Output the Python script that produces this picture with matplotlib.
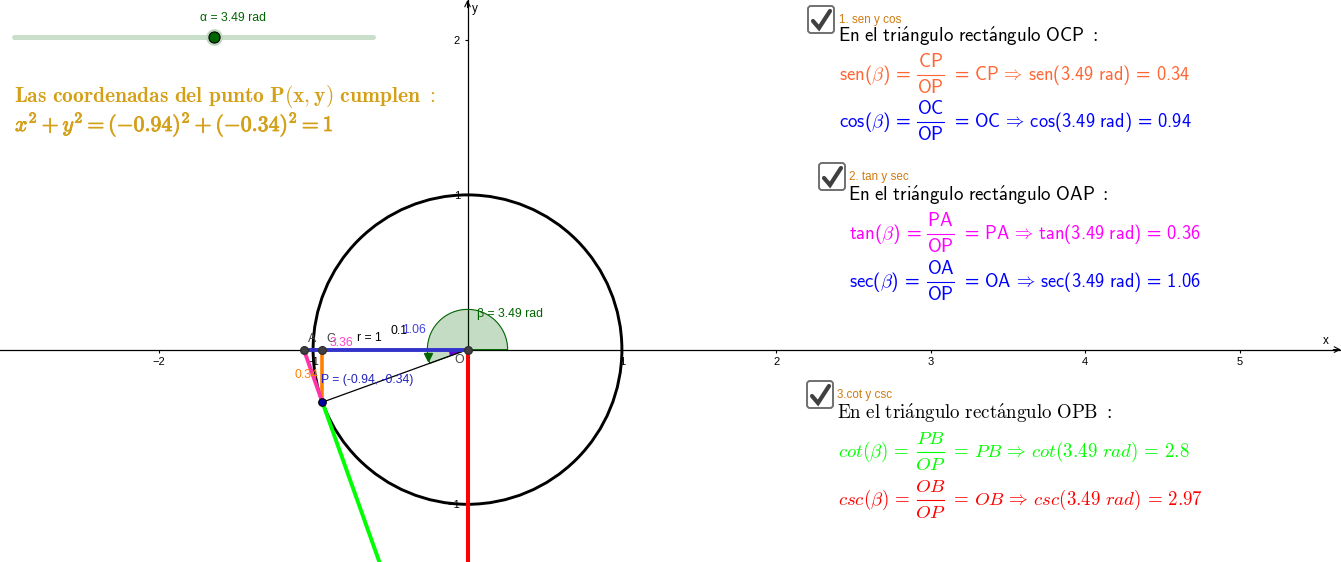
import numpy as np
import matplotlib
matplotlib.use("Agg")
import matplotlib.pyplot as plt
import matplotlib.patheffects as pe
from matplotlib.patches import Circle, Wedge, FancyBboxPatch

# sans formulas need digits and brackets from cmss10 too
plt.rcParams["mathtext.sf"] = "cmss10"
plt.rcParams["mathtext.rm"] = "cmss10"
plt.rcParams["mathtext.it"] = "cmmi10"
plt.rcParams["mathtext.fallback"] = "cm"

# unit circle values
beta = 3.49
p_x, p_y = -0.94, -0.34
a_x = -1.06
b_y = -2.97
x_ticks = [-2, -1, 1, 2, 3, 4, 5]
y_ticks = [-1, 1, 2]

ORANGE = "#FF6633"
BLUE = "#0000FF"
MAGENTA = "#FF00FF"
GREEN = "#00FF00"
RED = "#FF0000"
GOLD = "#D4A017"
DARK_GREEN = "#006400"
LABEL_ORANGE = "#D07A10"

W, H = 1341, 562
SX, SY = 154.4, 154.7
OX, OY = 467.5, 349.6

fig = plt.figure(figsize=(W / 100, H / 100), dpi=100)
ax = fig.add_axes([0, 0, 1, 1])
ax.set_xlim(-OX / SX, (W - OX) / SX)
ax.set_ylim((OY - H) / SY, OY / SY)

# axes through the origin
for side in ["top", "right"]:
    ax.spines[side].set_visible(False)
ax.spines["bottom"].set_position("zero")
ax.spines["left"].set_position("zero")
ax.spines["bottom"].set_linewidth(0.9)
ax.spines["left"].set_linewidth(0.9)
ax.set_xticks(x_ticks)
ax.set_yticks(y_ticks)
ax.set_xticklabels([str(t).replace("-", "\u2212") for t in x_ticks])
ax.set_yticklabels([str(t).replace("-", "\u2212") for t in y_ticks])
ax.tick_params(axis="both", direction="out", length=2.5, width=0.8, labelsize=8, pad=3)
for lab in ax.get_xticklabels() + ax.get_yticklabels():
    lab.set_family("Liberation Sans")
ax.annotate("", xy=(ax.get_xlim()[1], 0), xytext=(ax.get_xlim()[1] - 0.05, 0),
            arrowprops=dict(arrowstyle="->", lw=0.8, color="black", shrinkA=0, shrinkB=0))
ax.annotate("", xy=(0, ax.get_ylim()[1]), xytext=(0, ax.get_ylim()[1] - 0.05),
            arrowprops=dict(arrowstyle="->", lw=0.8, color="black", shrinkA=0, shrinkB=0))

# angle sectors
ax.add_patch(Wedge((0, 0), 0.26, 0, np.degrees(beta), facecolor="#006400", alpha=0.23, lw=0, zorder=3))
ax.add_patch(Wedge((0, 0), 0.26, 0, np.degrees(beta), fill=False, edgecolor=DARK_GREEN, lw=0.8, zorder=3))
ax.add_patch(Wedge((0, 0), 0.12, 180, np.degrees(beta), facecolor="#6A00D8", lw=0, zorder=3))
ax.plot([0.26 * np.cos(beta - 0.17)], [0.26 * np.sin(beta - 0.17)], "v", color=DARK_GREEN, ms=6, zorder=3)

# circle and segments
ax.add_patch(Circle((0, 0), 1, fill=False, edgecolor="black", lw=2.1, zorder=3))
ax.plot([0, p_x], [0, p_y], color="black", lw=0.9, zorder=4)
ax.plot([p_x, p_x], [0, p_y], color="#FF8000", lw=2.6, zorder=4)
ax.plot([0, a_x], [0, 0], color="#3333CC", lw=2.8, zorder=4)
ax.plot([p_x, a_x], [p_y, 0], color="#FF33AA", lw=2.8, zorder=4)
ax.plot([p_x, 0], [p_y, b_y], color=GREEN, lw=2.8, zorder=4)
ax.plot([0, 0], [0, b_y], color=RED, lw=2.9, zorder=4)

# points
ax.plot([a_x, p_x, 0], [0, 0, 0], "o", color="#404040", ms=5.5, mec="#303030", zorder=5)
ax.plot([p_x], [p_y], "o", color="#0000A0", ms=5.5, mec="black", mew=0.8, zorder=5)

# everything else is placed in pixels
ui = fig.add_axes([0, 0, 1, 1])
ui.set_xlim(0, W)
ui.set_ylim(H, 0)
ui.axis("off")


def small(x, y, s, color="black", size=8.8, **kw):
    ui.text(x, y, s, color=color, fontsize=size, family="Liberation Sans", va="center", **kw)


small(1323, 341, "x", size=8.5)
small(472, 9, "y", size=8.5)

# slider
ui.plot([14, 373], [37, 37], color="#CADFCA", lw=3.6, solid_capstyle="round")
knob_x = 12 + 363 * beta / (2 * np.pi)
ui.plot([knob_x], [37], "o", color="#BFD8BF", ms=12, mew=0)
ui.plot([knob_x], [37], "o", color=DARK_GREEN, ms=8, mec="black", mew=0.8)
small(200, 18, "\u03b1 = 3.49 rad", color=DARK_GREEN)

# labels around the triangle
small(308, 339, "A", color="#404040")
small(326, 339, "C", color="#404040")
small(330, 343, "3.36", color="#FF44CC")
small(357, 338, "r = 1")
small(391, 331, "0.1", color="black")
small(402, 330, "1.06", color="#4444DD")
small(295, 375, "0.34", color="#FF8000")
small(321, 380, "P = (-0.94, -0.34)", color="#2222BB")
small(454, 360, "O", color="#404040")
small(477, 314, "\u03b2 = 3.49 rad", color=DARK_GREEN)

# gold text
ui.text(14, 102, r"$\mathbf{Las\ coordenadas\ del\ punto\ P(x,y)\ cumplen\ :}$",
        color=GOLD, fontsize=15.5, math_fontfamily="cm")
ui.text(15, 131, r"$x^2+y^2=(-0.94)^2+(-0.34)^2=1$", color=GOLD, fontsize=15.7, math_fontfamily="cm",
        path_effects=[pe.withStroke(linewidth=0.6, foreground=GOLD)])

FS = 13.6


def checkbox(x, y):
    ui.add_patch(FancyBboxPatch((x + 2, y + 1), 26, 27, boxstyle="round,pad=0,rounding_size=3",
                                facecolor="white", edgecolor="#707070", lw=1.4))
    ui.plot([x + 7, x + 13, x + 24], [y + 16, y + 23, y + 6], color="#404040", lw=3,
            solid_capstyle="round", solid_joinstyle="miter")


def row(x, y, fn, side, val, color, style="sf"):
    # one "f(beta) = AB/OP = AB => f(3.49 rad) = v" line, the fraction is put together by hand
    if style == "sf":
        cmd, font = r"\mathsf", "custom"
        tail = r"\mathsf{(3.49\ rad)}\,=\,\mathsf{%s}" % val
        right_size = 13.25
    else:
        cmd, font = r"\mathit", "cm"
        tail = r"(3.49\ \mathit{rad})\,=\,%s" % val
        right_size = FS
    left = r"$%s{%s}(\beta)\,=$" % (cmd, fn)
    right = r"$=\,%s{%s}\,\Rightarrow\,%s{%s}%s$" % (cmd, side, cmd, fn, tail)
    cx = x + (91.5 if style == "sf" else 92.5)
    half = 13.5
    ui.text(x, y, left, color=color, fontsize=FS, math_fontfamily=font)
    ui.text(cx, y - 13, r"$%s{%s}$" % (cmd, side), color=color, fontsize=FS, ha="center", math_fontfamily=font)
    ui.plot([cx - half, cx + half], [y - 5, y - 5], color=color, lw=0.8)
    ui.text(cx, y + 13, r"$%s{OP}$" % cmd, color=color, fontsize=FS, ha="center", math_fontfamily=font)
    ui.text(x + 112, y, right, color=color, fontsize=right_size, math_fontfamily=font)


checkbox(806, 5)
small(839, 20, "1. sen y cos", color=LABEL_ORANGE, size=8.4)
ui.text(838, 42, r"$\mathsf{En\ el\ tri\'angulo\ rect\'angulo\ OCP\ :}$", fontsize=FS, math_fontfamily="cm")
row(839, 80, "sen", "CP", "0.34", ORANGE)
row(839, 127, "cos", "OC", "0.94", BLUE)

checkbox(817, 162)
small(849, 177, "2. tan y sec", color=LABEL_ORANGE, size=8.4)
ui.text(848, 201, r"$\mathsf{En\ el\ tri\'angulo\ rect\'angulo\ OAP\ :}$", fontsize=FS, math_fontfamily="cm")
row(849, 239, "tan", "PA", "0.36", MAGENTA)
row(849, 287, "sec", "OA", "1.06", BLUE)

checkbox(805, 380)
small(837, 395, "3.cot y csc", color=LABEL_ORANGE, size=8.4)
ui.text(837, 419, r"$\mathrm{En\ el\ tri\'angulo\ rect\'angulo\ OPB\ :}$", fontsize=FS, math_fontfamily="cm")
row(838, 457, "cot", "PB", "2.8", GREEN, style="it")
row(838, 505, "csc", "OB", "2.97", RED, style="it")

fig.savefig("out.png", dpi=100)
